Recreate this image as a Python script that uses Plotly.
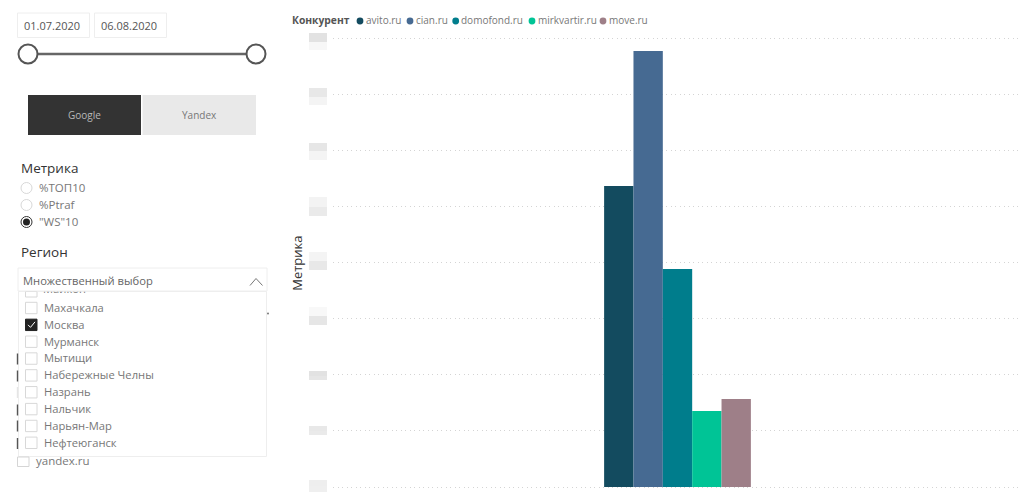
import plotly.graph_objects as go

W, H = 1024, 502
competitors = ["avito.ru", "cian.ru", "domofond.ru", "mirkvartir.ru", "move.ru"]
values = [5.365, 7.77, 3.886, 1.355, 1.57]
colors = ["#134B5F", "#466A92", "#007D8C", "#00C496", "#9E7F88"]
legend_title = "Конкурент"
axis_title = "Метрика"
date_from, date_to = "01.07.2020", "06.08.2020"
engines = ["Google", "Yandex"]
metric_title = "Метрика"
metrics = ["%ТОП10", "%Ptraf", '"WS"10']
region_title = "Регион"
dropdown_text = "Множественный выбор"
clipped_region = "Майкоп"
regions = ["Махачкала", "Москва", "Мурманск", "Мытищи", "Набережные Челны",
           "Назрань", "Нальчик", "Нарьян-Мар", "Нефтеюганск"]
FONT = "Open Sans"

fig = go.Figure()
for name, v, c in zip(competitors, values, colors):
    fig.add_bar(x=["Все"], y=[v], name=name, marker=dict(color=c, line_width=0), showlegend=False)

def px(x): return x / W
def py(y): return 1 - y / H

shapes, ann = [], []
def rect(x0, y0, x1, y1, fill="rgba(0,0,0,0)", line="rgba(0,0,0,0)", lw=1, layer="above"):
    shapes.append(dict(type="rect", xref="paper", yref="paper", x0=px(x0), x1=px(x1), y0=py(y0), y1=py(y1),
                       fillcolor=fill, line=dict(color=line, width=lw), layer=layer))
def circle(cx, cy, r, fill="white", line="rgba(0,0,0,0)", lw=1):
    shapes.append(dict(type="circle", xref="paper", yref="paper", x0=px(cx-r), x1=px(cx+r), y0=py(cy-r), y1=py(cy+r),
                       fillcolor=fill, line=dict(color=line, width=lw), layer="above"))
def seg(x0, y0, x1, y1, color, lw=1):
    shapes.append(dict(type="line", xref="paper", yref="paper", x0=px(x0), x1=px(x1), y0=py(y0), y1=py(y1),
                       line=dict(color=color, width=lw), layer="above"))
def text(x, y, s, size=12, color="#666666", anchor="left", bold=False, angle=0):
    ann.append(dict(xref="paper", yref="paper", x=px(x - (1.5 if anchor == "left" else 0)), y=py(y - 0.7),
                    text=f"<b>{s}</b>" if bold else s, showarrow=False, borderpad=0,
                    xanchor=anchor, yanchor="middle", align=anchor, textangle=angle,
                    font=dict(family=FONT, size=size, color=color)))

# blurred tick labels: (top, middle, bottom, upper tone, lower tone)
tick_blurs = [(33, 42, 50, "#E2E2E2", "#F7F7F7"), (88, 97, 105, "#E8E8E8", "#F4F4F4"),
              (143, 151, 160, "#E6E6E6", "#F4F4F4"), (197, 207, 216, "#F3F3F3", "#EAEAEA"),
              (252, 261, 270, "#F4F4F4", "#E8E8E8"), (307, 316, 325, "#F8F8F8", "#E6E6E6"),
              (371, 376, 380, "#E2E2E2", "#E6E6E6"), (426, 431, 435, "#E8E8E8", "#EAEAEA"),
              (480, 486, 492, "#EEEEEE", "#EFEFEF")]
for top, mid, bot, c1, c2 in tick_blurs:
    rect(309, top, 327, mid, fill=c1)
    rect(309, mid, 327, bot, fill=c2)

# date inputs and slider
rect(17.5, 13, 89.5, 37.5, line="#EEEEEE")
rect(94.5, 13, 166.5, 37.5, line="#EEEEEE")
text(24, 26, date_from, 11, "#555555")
text(101, 26, date_to, 11, "#555555")
seg(28, 54, 256, 54, "#666666", 2.5)
circle(28, 54, 9.5, "white", "#555555", 2)
circle(256, 54, 9.5, "white", "#555555", 2)

# search engine buttons
rect(28, 95, 141, 135, fill="#333333")
rect(142.5, 95, 256, 135, fill="#E9E9E9")
text(84.5, 115.5, engines[0], 10, "#B8B8B8", "center")
text(199, 115.5, engines[1], 10, "#777777", "center")

# metric radio
text(21, 169, metric_title, 13.5, "#333333")
for i, (m, y) in enumerate(zip(metrics, [188, 205, 222])):
    on = i == 2
    circle(26.5, y, 5.5, "white", "#333333" if on else "#D8D8D8", 1)
    if on:
        circle(26.5, y, 3.5, "#222222")
    text(39, y, m, 11.5, "#777777")

# list hidden behind the popup
for y, c in zip([359, 376, 392.5, 410, 426, 443.5],
                ["#555555", "#555555", "#E5E5E5", "#555555", "#555555", "#555555"]):
    seg(17.5, y-5.5, 17.5, y+5.5, c, 1.4)
rect(17.5, 457, 29, 466.5, line="#D5D5D5")
text(36, 461, "yandex.ru", 11.5, "#777777")
circle(268, 313.5, 1, "#777777")

# popup: kept under the traces so the clipped first row shows on it
rect(18.5, 291.5, 266.5, 456.5, fill="white", line="#EEEEEE", layer="below")
rect(25.5, 291.5, 37, 297, line="#D8D8D8")

# dropdown header
text(21, 253, region_title, 13.5, "#333333")
rect(18, 268, 267, 291, fill="white", line="#EEEEEE")
text(23, 281, dropdown_text, 11.2, "#666666")
seg(250, 285.5, 256, 278.5, "#777777", 1)
seg(256, 278.5, 262.5, 285.5, "#777777", 1)

for i, r in enumerate(regions):
    y = 308 + i * 16.85
    if r == "Москва":
        rect(25.5, y-5.7, 37, y+5.7, fill="#222222", line="#222222")
        seg(28, y, 30.5, y+2.5, "white", 1)
        seg(30.5, y+2.5, 35, y-3, "white", 1)
    else:
        rect(25.5, y-5.7, 37, y+5.7, line="#D8D8D8")
    text(44, y, r, 11.2, "#777777")

# half-hidden first row, clipped by the popup area
fig.add_scatter(x=[43], y=[290.6], mode="text", text=[clipped_region], textposition="middle right",
                textfont=dict(family=FONT, size=11.2, color="#777777"), cliponaxis=True,
                xaxis="x2", yaxis="y2", showlegend=False, hoverinfo="skip")

# legend
text(292, 21, legend_title, 10.3, "#555555", bold=True)
for name, c, cx, tx in zip(competitors, colors, [360, 410, 455.7, 532, 603], [366, 416, 461.7, 538, 609]):
    circle(cx, 21, 3.4, c)
    text(tx, 21, name, 10, "#777777")

text(297.5, 264, axis_title, 13, "#333333", "center", angle=-90)

step = 56.1
fig.update_layout(
    width=W, height=H, margin=dict(l=0, r=0, t=0, b=0), autosize=False,
    paper_bgcolor="white", plot_bgcolor="rgba(0,0,0,0)", barmode="group", bargap=0.787, bargroupgap=0,
    showlegend=False, shapes=shapes, annotations=ann,
    font=dict(family=FONT),
    xaxis=dict(domain=[333/W, 1022/W], showticklabels=False, showgrid=False, zeroline=False, ticks=""),
    yaxis=dict(domain=[py(487 + step * 0.1), py(38 - step * 0.1)], range=[-0.1, 8.1], tick0=0, dtick=1,
               showticklabels=False, ticks="",
               showgrid=True, gridcolor="#D4D4D4", griddash="1px,3.5px", gridwidth=1, zeroline=False),
    xaxis2=dict(domain=[px(18.5), px(266.5)], range=[18.5, 266.5], visible=False, anchor="y2", fixedrange=True),
    yaxis2=dict(domain=[py(456.5), py(291.5)], range=[456.5, 291.5], visible=False, anchor="x2", fixedrange=True),
)
fig.write_html("out.html", config={"displayModeBar": False, "responsive": False},
               post_script="document.body.style.margin='0';")
